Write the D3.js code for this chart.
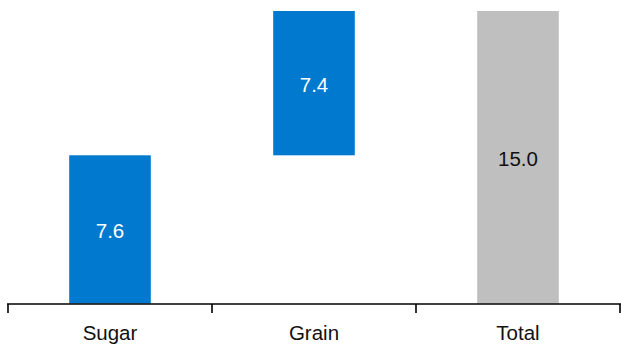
<!DOCTYPE html>
<html>
<head>
<meta charset="utf-8">
<script src="https://cdn.jsdelivr.net/npm/d3@7"></script>
<style>
  html, body { margin: 0; padding: 0; background: #fff; }
  svg { display: block; }
  text { font-family: "Liberation Sans", Arial, sans-serif; }
</style>
</head>
<body>
<svg id="chart" width="621" height="347"></svg>
<script>
// Waterfall: contributions stacked up to a total
const categories = ["Sugar", "Grain", "Total"];
const values = [7.6, 7.4, 15.0];
const isTotal = [false, false, true];
const barColors = { step: "#0079cf", total: "#bfbfbf" };
const labelColors = { step: "#ffffff", total: "#111111" };

// Build start/end for each bar
let running = 0;
const bars = categories.map((c, i) => {
  let y0, y1;
  if (isTotal[i]) { y0 = 0; y1 = values[i]; }
  else { y0 = running; y1 = running + values[i]; running = y1; }
  return { cat: c, value: values[i], y0, y1, total: isTotal[i] };
});

const svg = d3.select("#chart");
const x = d3.scaleBand()
  .domain(categories)
  .range([8, 620])
  .paddingInner(0.6)
  .paddingOuter(0.3);

const y = d3.scaleLinear()
  .domain([0, 15])
  .range([303.5, 11]);

svg.selectAll("rect.bar")
  .data(bars)
  .enter().append("rect")
  .attr("class", "bar")
  .attr("x", d => x(d.cat))
  .attr("width", x.bandwidth())
  .attr("y", d => y(d.y1))
  .attr("height", d => y(d.y0) - y(d.y1))
  .attr("fill", d => d.total ? barColors.total : barColors.step);

svg.selectAll("text.val")
  .data(bars)
  .enter().append("text")
  .attr("class", "val")
  .attr("x", d => x(d.cat) + x.bandwidth() / 2)
  .attr("y", d => (y(d.y0) + y(d.y1)) / 2 + 9)
  .attr("text-anchor", "middle")
  .attr("font-size", "20.5px")
  .attr("fill", d => d.total ? labelColors.total : labelColors.step)
  .text(d => d.value.toFixed(1));

// Category axis with boundary ticks between bands
const axisY = 304;
const axis = svg.append("g");
axis.append("line")
  .attr("x1", 7).attr("x2", 621)
  .attr("y1", axisY).attr("y2", axisY)
  .attr("stroke", "#000").attr("stroke-width", 1.6);

const step = x.step();
const boundaries = d3.range(categories.length + 1).map(i => x.range()[0] + i * step);
axis.selectAll("line.tick")
  .data(boundaries)
  .enter().append("line")
  .attr("class", "tick")
  .attr("x1", d => d).attr("x2", d => d)
  .attr("y1", axisY).attr("y2", 313)
  .attr("stroke", "#000").attr("stroke-width", 1.6);

axis.selectAll("text.cat")
  .data(categories)
  .enter().append("text")
  .attr("class", "cat")
  .attr("x", d => x(d) + x.bandwidth() / 2)
  .attr("y", 339.5)
  .attr("text-anchor", "middle")
  .attr("font-size", "20.5px")
  .attr("fill", "#111111")
  .text(d => d);
</script>
</body>
</html>
